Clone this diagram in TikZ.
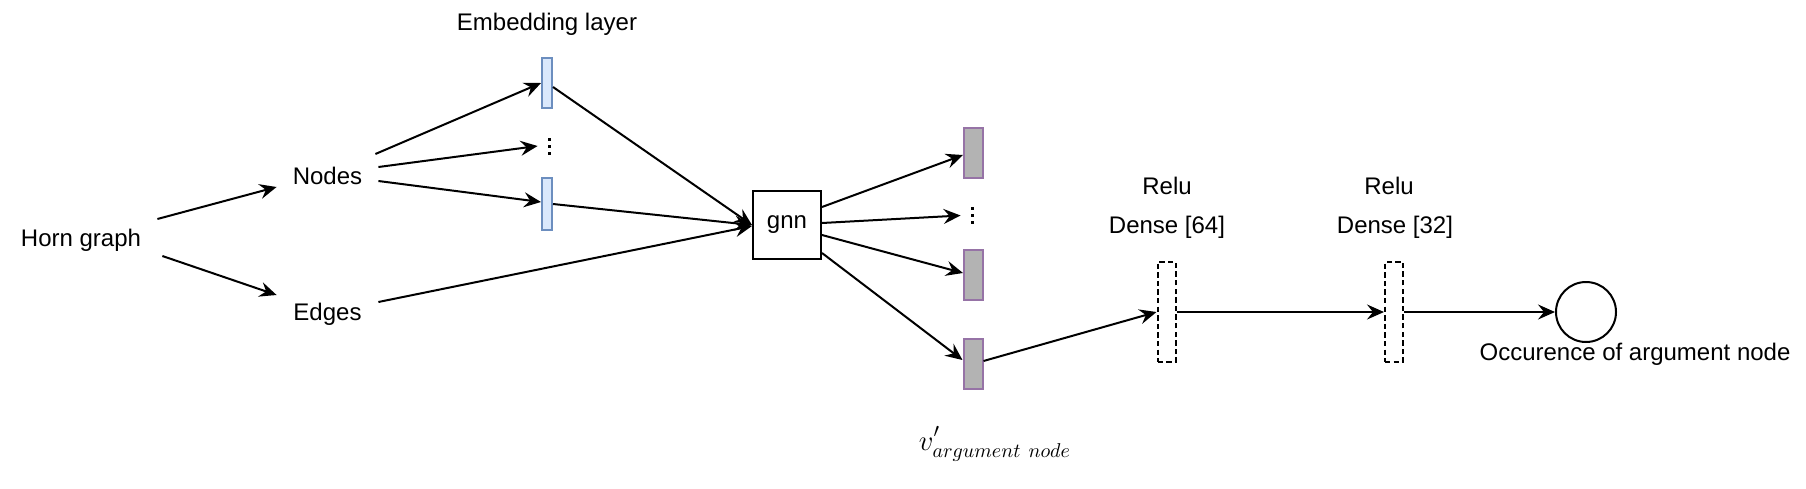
\documentclass[tikz,border=0pt]{standalone}
\usepackage{fontspec}
\setmainfont{Liberation Sans}
\usetikzlibrary{arrows.meta,calc}
\definecolor{embfill}{HTML}{DAE8FC}
\definecolor{embdraw}{HTML}{6C8EBF}
\definecolor{outfill}{HTML}{B3B3B3}
\definecolor{outdraw}{HTML}{9673A6}
\begin{document}
\begin{tikzpicture}[x=0.5pt,y=-0.5pt,
  font=\fontsize{12}{14}\selectfont,
  conn/.style={line width=1pt,-{Stealth[length=8.5pt,width=7.5pt,inset=3pt]}},
  txt/.style={rectangle,inner sep=0pt,align=center},
  embbox/.style={rectangle,draw=embdraw,fill=embfill,line width=1pt,inner sep=0pt,minimum width=5pt},
  outbox/.style={rectangle,draw=outdraw,fill=outfill,line width=1pt,inner sep=0pt,minimum width=9.5pt,minimum height=25pt},
  densebox/.style={rectangle,draw=black,dash pattern=on 2.7pt off 1.6pt,line width=1pt,inner sep=0pt,minimum width=9pt,minimum height=50pt},
  gnnbox/.style={rectangle,draw=black,line width=1pt,inner sep=0pt,minimum width=34pt,minimum height=34pt},
  dotsbox/.style={rectangle,inner sep=0pt,minimum width=11pt,minimum height=10pt,
    path picture={
      \fill ([xshift=-0.75pt,yshift=2.75pt]path picture bounding box.center) rectangle ++(1.5pt,1.5pt);
      \fill ([xshift=-0.75pt,yshift=-0.75pt]path picture bounding box.center) rectangle ++(1.5pt,1.5pt);
      \fill ([xshift=-0.75pt,yshift=-4.25pt]path picture bounding box.center) rectangle ++(1.5pt,1.5pt);
    }},
  circ/.style={circle,draw=black,line width=1pt,inner sep=0pt,minimum size=30pt}
]
\useasboundingbox (0,0) rectangle (1806,488);

% text nodes
\node[txt,minimum width=79pt] (horn) at (81,240) {Horn graph};
\node[txt,minimum width=50.5pt,minimum height=22pt] (nodesT) at (327.5,176) {Nodes};
\node[txt,minimum width=50.5pt,minimum height=22pt] (edgesT) at (327.5,314) {Edges};
\node[txt] (emblab) at (547,24) {Embedding layer};

% embedding layer
\node[embbox,minimum height=25pt] (emb1) at (547,83) {};
\node[dotsbox] (dots1) at (549,146) {};
\node[embbox,minimum height=26pt] (emb2) at (547,204) {};

% gnn
\node[gnnbox] (gnn) at (787,225) {gnn};

% outputs
\node[outbox] (out1) at (973.5,153) {};
\node[dotsbox] (dots2) at (972,215.5) {};
\node[outbox] (out2) at (973.5,275) {};
\node[outbox] (out3) at (973,364) {};
\node[txt,font=\fontsize{14.5}{17}\selectfont] (vlab) at (995,444) {$v^{\raisebox{1.5pt}{$\scriptstyle\prime$}}_{argument\ node}$};

% dense layers
\node[densebox] (d1) at (1166.5,312) {};
\node[densebox] (d2) at (1394,312) {};
\node[txt] (relu1) at (1167,186) {Relu};
\node[txt] (dense1lab) at (1167,227) {Dense [64]};
\node[txt] (relu2) at (1389,186) {Relu};
\node[txt] (dense2lab) at (1395,227) {Dense [32]};

% output circle
\node[circ] (res) at (1586,312) {};
\node[txt] (reslab) at (1635,354) {Occurence of argument node};

% connectors
\draw[conn] ($(horn.east)+(-3,-21)$) -- ($(nodesT.west)+(0,11)$);
\draw[conn] ($(horn.east)+(2,16)$) -- ($(edgesT.west)+(0,-19)$);
\draw[conn] ($(nodesT.east)+(-3,-22)$) -- (emb1.west);
\draw[conn] ($(nodesT.east)+(0,-9)$) -- (dots1.west);
\draw[conn] ($(nodesT.east)+(0,5)$) -- ($(emb2.west)+(0,-2)$);
\draw[conn] ($(emb1.east)+(0,4)$) -- (gnn.west);
\draw[conn] (emb2.east) -- (gnn.west);
\draw[conn] ($(edgesT.east)+(0,-12)$) -- ($(gnn.west)+(0,1)$);
\draw[conn] ($(gnn.east)+(0,-18)$) -- ($(out1.west)+(0,2)$);
\draw[conn] ($(gnn.east)+(0,-2)$) -- (dots2.west);
\draw[conn] ($(gnn.east)+(0,10)$) -- ($(out2.west)+(0,-2)$);
\draw[conn] ($(gnn.east)+(0,28)$) -- ($(out3.west)+(0,-4)$);
\draw[conn] ($(out3.east)+(0,-3)$) -- (d1.west);
\draw[conn] (d1.east) -- (d2.west);
\draw[conn] (d2.east) -- (res.west);
\end{tikzpicture}
\end{document}
